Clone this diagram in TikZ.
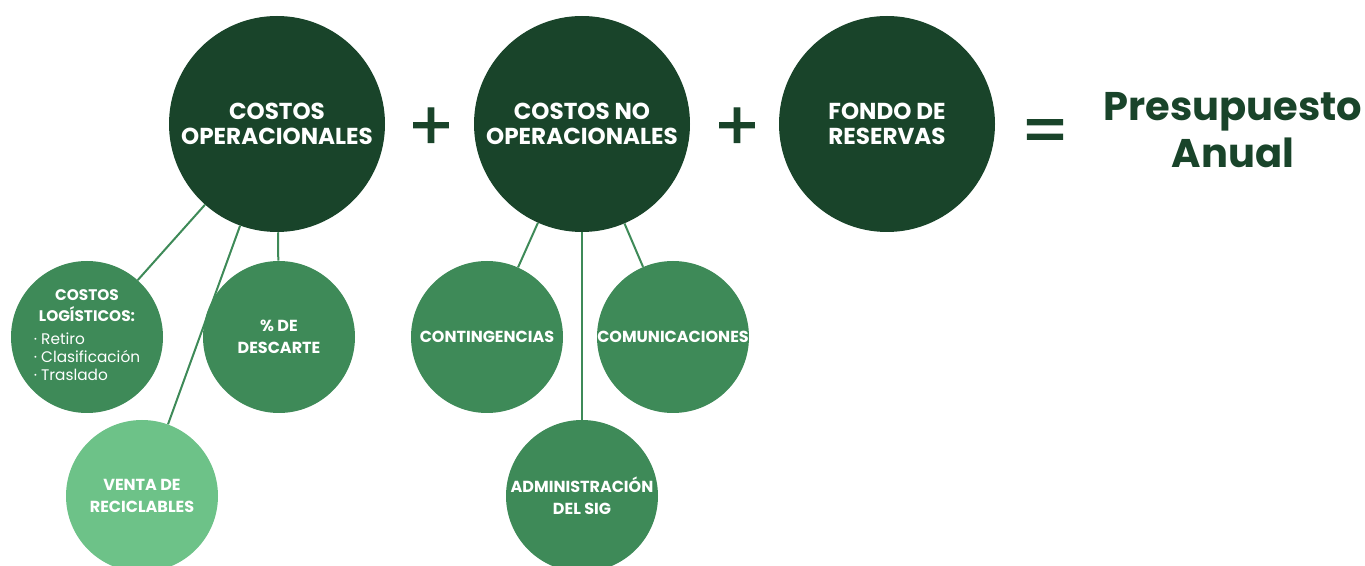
\documentclass[tikz,border=0pt]{standalone}
\usepackage{fontspec}
\setmainfont{Poppins}
\definecolor{darkgreen}{HTML}{19442A}
\definecolor{midgreen}{HTML}{3E8A58}
\definecolor{lightgreen}{HTML}{6DC288}
\tikzset{
  bigcirc/.style={circle, fill=darkgreen, minimum size=162pt, inner sep=0pt,
    text=white, align=center, font=\bfseries\fontsize{17.3}{19}\selectfont},
  smallcirc/.style={circle, fill=midgreen, minimum size=114pt, inner sep=0pt,
    text=white, align=center, font=\bfseries\fontsize{12}{16.3}\selectfont},
  link/.style={midgreen, line width=1.5pt},
  sign/.style={text=darkgreen, inner sep=0pt,
    font=\addfontfeature{FakeBold=1.6}\fontsize{51}{51}\selectfont}
}
\begin{document}
\begin{tikzpicture}[x=0.75pt, y=-0.75pt]
  \useasboundingbox (0,0) rectangle (1365,566);
  % top row
  \node[bigcirc] (oper) at (277,124) {COSTOS\\OPERACIONALES};
  \node[bigcirc] (nooper) at (582,124) {COSTOS NO\\OPERACIONALES};
  \node[bigcirc] (fondo) at (887,124) {FONDO DE\\RESERVAS};
  \node[sign] (plusa) at (431,129) {+};
  \node[sign] (plusb) at (737,129) {+};
  \node[sign] (equal) at (1045,137) {=};
  \node[text=darkgreen, align=center, font=\bfseries\fontsize{30}{35}\selectfont]
    (total) at (1233,130) {Presupuesto\\Anual};
  % operational costs
  \node[smallcirc, font=\bfseries\fontsize{11.5}{13.5}\selectfont] (logist) at (87,337) {%
    \begin{tabular}{@{}l@{}}
      \multicolumn{1}{@{}c@{}}{COSTOS}\\
      \multicolumn{1}{@{}c@{}}{LOGÍSTICOS:}\\[4pt]
      \mdseries· Retiro\\
      \mdseries· Clasificación\\
      \mdseries· Traslado
    \end{tabular}};
  \node[smallcirc] (descarte) at (279,337) {\% DE\\DESCARTE};
  \node[smallcirc, fill=lightgreen] (venta) at (142,496) {VENTA DE\\RECICLABLES};
  % non operational costs
  \node[smallcirc] (conting) at (487,337) {CONTINGENCIAS};
  \node[smallcirc] (comunic) at (673,337) {COMUNICACIONES};
  \node[smallcirc] (admin) at (582,496) {ADMINISTRACIÓN\\DEL SIG};
  \begin{scope}[link]
    \draw (oper) to (logist);
    \draw (oper) to (venta);
    \draw (oper) to (descarte);
    \draw (nooper) to (conting);
    \draw (nooper) to (admin);
    \draw (nooper) to (comunic);
  \end{scope}
\end{tikzpicture}
\end{document}
